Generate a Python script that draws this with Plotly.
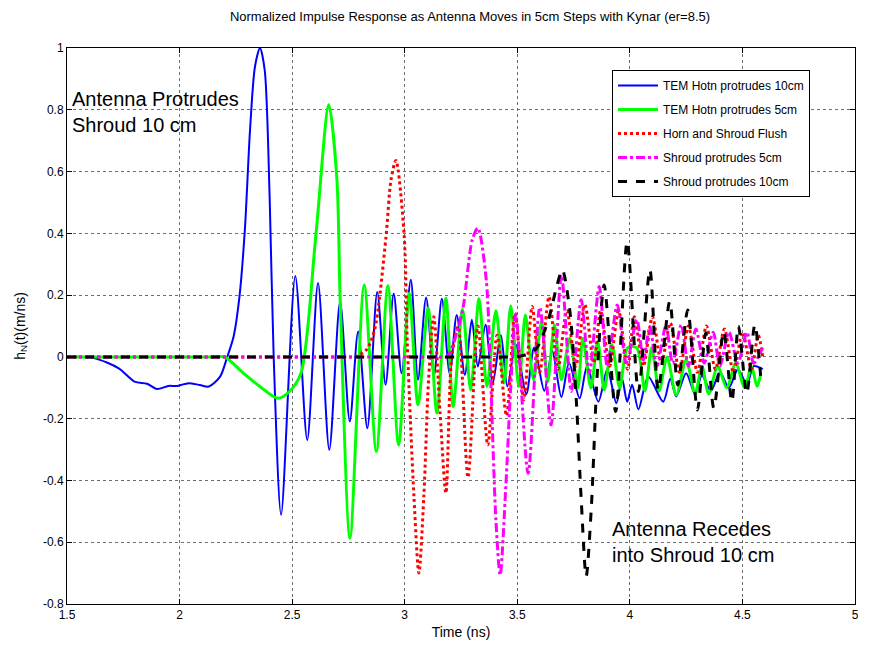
import plotly.graph_objects as go

# ---------------- data ----------------
blue_t = [1.50, 1.62, 1.73, 1.80, 1.855, 1.90, 1.95, 1.99, 2.04, 2.09, 2.13, 2.18, 2.21, 2.24, 2.266,
          2.29, 2.313, 2.335, 2.357, 2.378, 2.40, 2.418, 2.451, 2.514, 2.567, 2.615, 2.665, 2.713,
          2.756, 2.793, 2.834, 2.878, 2.915, 2.951, 2.986, 3.027, 3.059, 3.095, 3.13, 3.165, 3.20,
          3.231, 3.267, 3.298, 3.325, 3.359, 3.391, 3.427, 3.456, 3.493, 3.54, 3.575, 3.62, 3.655,
          3.696, 3.73, 3.777, 3.81, 3.86, 3.90, 3.94, 3.965, 3.988, 4.01, 4.038, 4.082, 4.148,
          4.18, 4.206, 4.25, 4.29, 4.32, 4.36, 4.40, 4.44, 4.48, 4.52, 4.55, 4.59]
blue_y = [0.0, -0.004, -0.037, -0.08, -0.087, -0.104, -0.094, -0.094, -0.085, -0.091, -0.096, -0.064,
          -0.004, 0.066, 0.195, 0.411, 0.735, 0.94, 1.0, 0.929, 0.519, 0.0, -0.511, 0.262, -0.269,
          0.239, -0.301, 0.179, -0.209, 0.082, -0.231, 0.21, -0.09, 0.205, -0.053, 0.25, -0.074,
          0.192, -0.06, 0.188, -0.055, 0.136, -0.058, 0.12, -0.031, 0.104, -0.085, 0.071, -0.096,
          0.04, -0.12, 0.03, -0.11, 0.02, -0.13, -0.02, -0.134, -0.03, -0.145, -0.04, -0.15, -0.07,
          -0.145, -0.09, -0.17, -0.064, -0.145, -0.07, -0.128, -0.053, -0.12, -0.06, -0.11, -0.05,
          -0.10, -0.04, -0.09, -0.03, -0.04]

green_t = [1.50, 1.60, 1.70, 1.80, 1.90, 2.00, 2.10, 2.15, 2.20, 2.284, 2.357, 2.437, 2.488, 2.539,
           2.605, 2.663, 2.699, 2.713, 2.757, 2.820,
           2.874, 2.925, 2.973, 3.020, 3.059, 3.104, 3.143, 3.183, 3.215, 3.257, 3.293, 3.330,
           3.365, 3.405, 3.441, 3.471, 3.507, 3.536, 3.572, 3.608, 3.635, 3.665, 3.696, 3.733,
           3.769, 3.791, 3.827, 3.857, 3.886, 3.92, 3.955, 3.99, 4.03, 4.067, 4.097, 4.13, 4.165,
           4.206, 4.25, 4.29, 4.32, 4.35, 4.39, 4.43, 4.47, 4.51, 4.54, 4.565, 4.58]
green_y = [0.0, 0.0, 0.0, 0.0, 0.0, 0.0, 0.0, 0.0, 0.0, -0.053, -0.096, -0.134, -0.112, -0.053,
           0.39, 0.816, 0.573, 0.195, -0.587,
           0.233, -0.306, 0.23, -0.285, 0.206, -0.155, 0.158, -0.182, 0.19, -0.161, 0.154, -0.107,
           0.188, -0.096, 0.149, -0.085, 0.165, -0.096, 0.136, -0.074, 0.114, -0.08, 0.104, -0.074,
           0.06, -0.101, 0.06, -0.101, 0.05, -0.107, 0.04, -0.10, 0.03, 0.03, -0.11, 0.03, -0.11,
           0.0, -0.123, -0.01, -0.12, -0.03, -0.12, -0.03, -0.10, -0.02, -0.10, -0.03, -0.096, -0.06]

red_t = [1.50, 1.70, 1.90, 2.10, 2.30, 2.50, 2.60, 2.70, 2.75, 2.78, 2.83, 2.866, 2.917, 2.939,
         2.961, 2.997, 3.012, 3.041, 3.063, 3.085, 3.106,
         3.129, 3.157, 3.183, 3.209, 3.238, 3.281, 3.325, 3.369, 3.41, 3.452, 3.49, 3.529, 3.566,
         3.60, 3.641, 3.68, 3.72, 3.76, 3.80, 3.84, 3.87, 3.91, 3.95, 3.99, 4.02, 4.06, 4.10,
         4.14, 4.18, 4.22, 4.26, 4.30, 4.34, 4.38, 4.42, 4.46, 4.50, 4.54, 4.57, 4.59]
red_y = [0.0, 0.0, 0.0, 0.0, 0.0, 0.0, 0.0, 0.0, 0.0, 0.0, 0.023, 0.087, 0.39, 0.573, 0.636, 0.40,
         0.033, -0.452, -0.70, -0.45, -0.074,
         0.13, -0.18, -0.441, 0.0, 0.098, -0.39, 0.10, -0.285, 0.07, -0.19, 0.14, -0.139, 0.163,
         -0.05, 0.195, -0.04, 0.15, -0.03, 0.17, -0.02, 0.15, -0.03, 0.15, -0.04, 0.13, -0.03, 0.13,
         -0.02, 0.11, -0.05, 0.10, -0.05, 0.10, -0.04, 0.09, -0.05, 0.08, -0.04, 0.07, 0.0]

mag_t = [1.50, 1.70, 1.90, 2.10, 2.30, 2.50, 2.70, 2.90, 3.00, 3.10, 3.15, 3.187, 3.231, 3.26,
         3.30, 3.325, 3.362, 3.383, 3.405, 3.424, 3.449, 3.471, 3.493,
         3.548, 3.60, 3.650, 3.696, 3.740, 3.784, 3.820, 3.864, 3.900, 3.944, 3.985, 4.031, 4.06,
         4.089, 4.12, 4.16, 4.19, 4.228, 4.26, 4.293, 4.33, 4.37, 4.40, 4.44, 4.48, 4.52, 4.55, 4.59]
mag_y = [0.0, 0.0, 0.0, 0.0, 0.0, 0.0, 0.0, 0.0, 0.0, 0.0, 0.0, 0.0, 0.077, 0.163, 0.379, 0.417,
         0.25, -0.096, -0.528, -0.706, -0.42, -0.096, 0.14,
         -0.377, 0.16, -0.22, 0.265, -0.112, 0.185, -0.053, 0.228, -0.031, 0.168, -0.02, 0.12,
         -0.01, 0.098, -0.03, 0.10, -0.02, 0.104, -0.03, 0.09, -0.02, 0.08, -0.03, 0.08, -0.02,
         0.08, -0.02, 0.03]

black_t = [1.50, 1.70, 1.90, 2.10, 2.30, 2.50, 2.70, 2.90, 3.10, 3.30, 3.40, 3.45, 3.50, 3.58,
           3.638, 3.675, 3.70, 3.733, 3.762, 3.784, 3.806, 3.828, 3.857, 3.886,
           3.937, 3.988, 4.038, 4.089, 4.126, 4.177, 4.213, 4.257, 4.30, 4.337, 4.373, 4.417,
           4.453, 4.482, 4.519, 4.555, 4.584]
black_y = [0.0, 0.0, 0.0, 0.0, 0.0, 0.0, 0.0, 0.0, 0.0, 0.0, 0.0, 0.0, 0.0, 0.023, 0.12, 0.228,
           0.282, 0.152, -0.139, -0.463, -0.711, -0.5, -0.031, 0.233,
           -0.177, 0.373, -0.112, 0.282, -0.107, 0.179, -0.091, 0.152, -0.172, 0.077, -0.166, 0.082,
           -0.145, 0.10, -0.118, 0.104, -0.091]

series_names = ["TEM Hotn protrudes 10cm", "TEM Hotn protrudes 5cm", "Horn and Shroud Flush",
                "Shroud protrudes 5cm", "Shroud protrudes 10cm"]

x_ticks = [1.5, 2, 2.5, 3, 3.5, 4, 4.5, 5]
x_tick_text = ["1.5", "2", "2.5", "3", "3.5", "4", "4.5", "5"]
y_ticks = [-0.8, -0.6, -0.4, -0.2, 0, 0.2, 0.4, 0.6, 0.8, 1]
y_tick_text = ["-0.8", "-0.6", "-0.4", "-0.2", "0", "0.2", "0.4", "0.6", "0.8", "1"]

title_text = "Normalized Impulse Response as Antenna Moves in 5cm Steps with Kynar (er=8.5)"
note_top = "Antenna Protrudes<br>Shroud 10 cm"
note_bottom = "Antenna Recedes<br>into Shroud 10 cm"

# ---------------- figure ----------------
# The page body has an 8px margin; keep the whole figure inside the visible area.
W, H = 850, 632
ML, MR, MT, MB = 59, 3, 40, 36
PW = W - ML - MR            # plot width in px
PH = H - MT - MB            # plot height in px
PX0, PY0 = 8 + ML, 8 + MT   # plot origin on the page


def fx(px):  # page x -> paper fraction
    return (px - PX0) / PW


def fy(py):  # page y -> paper fraction
    return 1 - (py - PY0) / PH


FONT = "Liberation Sans, Arial, sans-serif"
styles = [
    dict(color="#0000ff", width=2, dash="solid"),
    dict(color="#00ff00", width=3, dash="solid"),
    dict(color="#ff0000", width=3, dash="dot"),
    dict(color="#ff00ff", width=3, dash="dashdot"),
    dict(color="#000000", width=3, dash="dash"),
]
data = [(blue_t, blue_y), (green_t, green_y), (red_t, red_y), (mag_t, mag_y), (black_t, black_y)]

fig = go.Figure()
for i, ((t, y), name, st) in enumerate(zip(data, series_names, styles)):
    fig.add_trace(go.Scatter(
        x=t, y=y, mode="lines", name=name, legendgroup=f"g{i}",
        line=dict(color=st["color"], width=st["width"], dash=st["dash"],
                  shape="spline", smoothing=0.8),
    ))

axis_common = dict(
    showline=True, linecolor="black", linewidth=1, mirror="ticks",
    ticks="inside", ticklen=5, tickcolor="black", automargin=False,
    ticklabeloverflow="allow",
    showgrid=True, gridcolor="#6e6e6e", griddash="dot", gridwidth=1,
    zeroline=False, tickfont=dict(family=FONT, size=12, color="black"),
)

fig.update_layout(
    width=W, height=H,
    margin=dict(l=ML, r=MR, t=MT, b=MB, autoexpand=False),
    paper_bgcolor="white", plot_bgcolor="white",
    font=dict(family=FONT, size=12, color="black"),
    title=dict(text=title_text, x=(470 - 8) / W, xref="container", xanchor="center",
               y=1 - 8 / H, yref="container", yanchor="middle", automargin=False,
               font=dict(family=FONT, size=13, color="black")),
    xaxis=dict(range=[1.5, 5], tickvals=x_ticks, ticktext=x_tick_text,
               title=dict(text="Time (ns)", font=dict(family=FONT, size=14), standoff=6),
               **axis_common),
    yaxis=dict(range=[-0.8, 1], tickvals=y_ticks, ticktext=y_tick_text,
               title=dict(text="h<sub>N</sub>(t)(m/ns)", font=dict(family=FONT, size=14), standoff=14),
               **axis_common),
    legend=dict(x=fx(612), y=fy(70), xanchor="left", yanchor="top",
                bgcolor="white", bordercolor="black", borderwidth=1,
                font=dict(family=FONT, size=12, color="black"),
                traceorder="grouped", tracegroupgap=5, itemwidth=40),
    showlegend=True,
)

fig.add_annotation(text=note_top, xref="paper", yref="paper",
                   x=fx(70), y=fy(86), xanchor="left", yanchor="top",
                   showarrow=False, align="left",
                   font=dict(family=FONT, size=20, color="black"))
fig.add_annotation(text=note_bottom, xref="paper", yref="paper",
                   x=fx(610), y=fy(516), xanchor="left", yanchor="top",
                   showarrow=False, align="left",
                   font=dict(family=FONT, size=20, color="black"))

fig.write_html("out.html")
